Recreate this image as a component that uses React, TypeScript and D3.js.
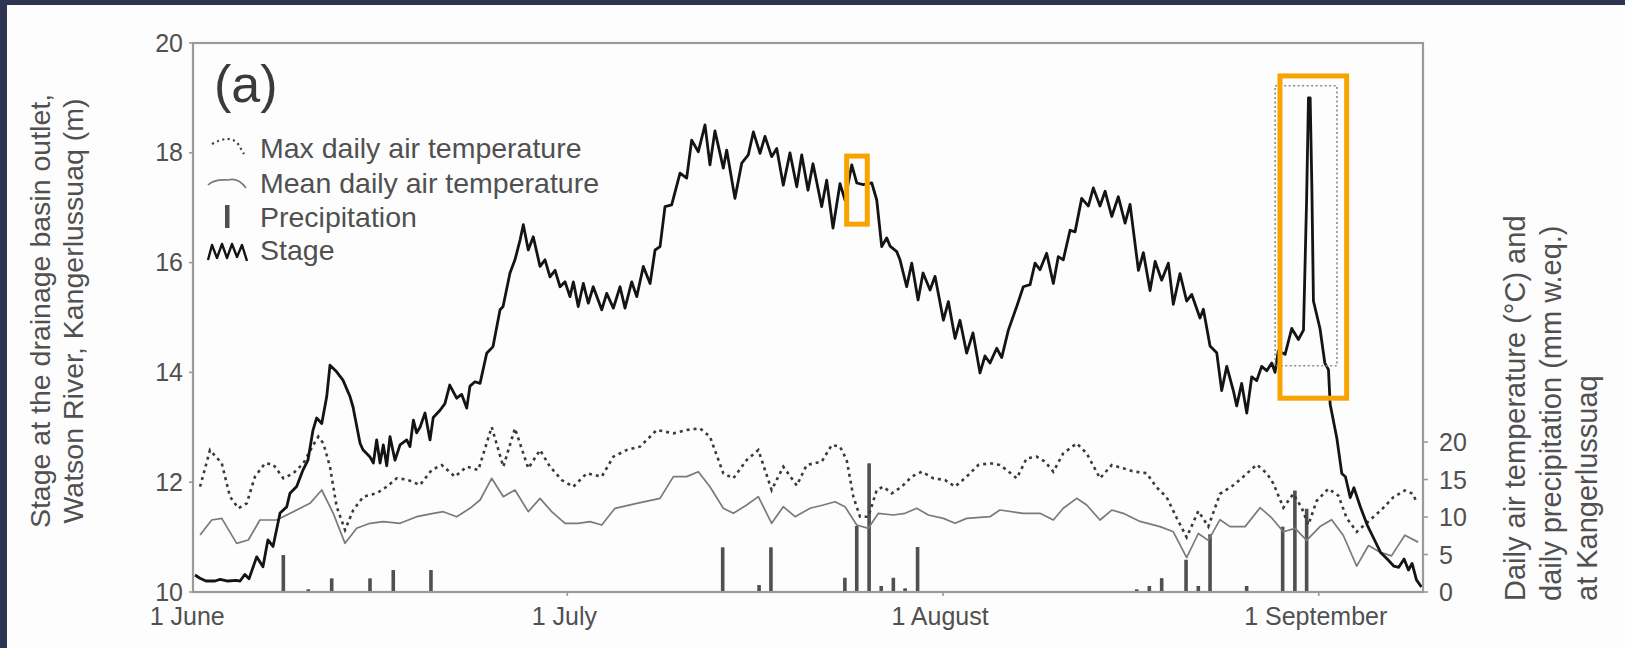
import React from 'react';
import * as d3 from 'd3';

// Day offsets are counted from 1 June 00:00; stage in metres.
const stage: [number, number][] = [
  [-0.72, 10.31], [-0.31, 10.25], [0.19, 10.2], [0.93, 10.2], [1.35, 10.23], [2.0, 10.2], [2.67, 10.21],
  [3.0, 10.2], [3.4, 10.32], [3.74, 10.24], [4.37, 10.64], [4.89, 10.46], [5.3, 10.95], [5.72, 10.83],
  [6.3, 11.44], [6.85, 11.55], [7.12, 11.8], [7.67, 11.92], [8.19, 12.22], [8.6, 12.4], [9.02, 12.95],
  [9.32, 13.17], [9.74, 13.07], [10.15, 13.56], [10.42, 14.13], [10.97, 14.01], [11.49, 13.86],
  [12.07, 13.56], [12.32, 13.37], [12.9, 12.71], [13.14, 12.59], [13.72, 12.46], [14.0, 12.35],
  [14.27, 12.77], [14.55, 12.35], [14.82, 12.68], [15.1, 12.3], [15.37, 12.83], [15.78, 12.4],
  [16.2, 12.68], [16.75, 12.77], [17.02, 12.65], [17.3, 13.13], [17.57, 12.9], [17.85, 13.0],
  [18.26, 13.26], [18.67, 12.77], [18.94, 13.18], [19.5, 13.31], [19.9, 13.43], [20.3, 13.77],
  [20.87, 13.53], [21.28, 13.6], [21.7, 13.35], [21.97, 13.75], [22.38, 13.83], [22.8, 13.8],
  [23.35, 14.35], [23.87, 14.47], [24.45, 15.14], [24.7, 15.2], [25.27, 15.81], [25.68, 16.05],
  [26.1, 16.41], [26.37, 16.69], [26.78, 16.23], [27.19, 16.47], [27.75, 15.93], [28.16, 16.05],
  [28.57, 15.74], [28.99, 15.86], [29.4, 15.56], [29.81, 15.65], [30.22, 15.38], [30.5, 15.65],
  [30.9, 15.2], [31.32, 15.62], [31.73, 15.26], [32.14, 15.56], [32.84, 15.14], [33.25, 15.44],
  [33.8, 15.17], [34.35, 15.56], [34.76, 15.17], [35.31, 15.65], [35.73, 15.38], [36.27, 15.93],
  [36.83, 15.62], [37.24, 16.23], [37.65, 16.29], [38.06, 17.02], [38.61, 17.05], [39.3, 17.63],
  [39.85, 17.54], [40.26, 18.23], [40.81, 18.02], [41.36, 18.51], [41.77, 17.78], [42.18, 18.4],
  [42.87, 17.72], [43.15, 18.05], [43.83, 17.17], [44.39, 17.81], [44.93, 17.96], [45.35, 18.38],
  [45.9, 17.99], [46.31, 18.3], [46.86, 17.93], [47.28, 18.08], [47.82, 17.41], [48.37, 18.0],
  [48.93, 17.38], [49.34, 17.96], [49.86, 17.32], [50.27, 17.8], [50.99, 17.02], [51.4, 17.5],
  [51.92, 16.63], [52.5, 17.44], [52.91, 17.14], [53.47, 17.78], [53.88, 17.45], [54.42, 17.42],
  [55.12, 17.45], [55.53, 17.14], [55.94, 16.29], [56.35, 16.45], [56.63, 16.3], [57.18, 16.2],
  [57.45, 16.05], [58.0, 15.56], [58.42, 15.99], [58.94, 15.32], [59.35, 15.81], [59.93, 15.5],
  [60.34, 15.75], [61.03, 14.95], [61.44, 15.29], [61.99, 14.62], [62.4, 14.95], [62.95, 14.35],
  [63.47, 14.72], [64.05, 13.99], [64.46, 14.3], [64.87, 14.17], [65.43, 14.44], [65.84, 14.27],
  [66.39, 14.77], [67.08, 15.2], [67.62, 15.56], [68.18, 15.6], [68.59, 15.99], [69.0, 15.87],
  [69.55, 16.17], [70.1, 15.62], [70.51, 16.11], [70.92, 16.05], [71.48, 16.59], [71.89, 16.56],
  [72.44, 17.17], [72.99, 17.03], [73.4, 17.36], [73.95, 17.03], [74.37, 17.3], [74.92, 16.84],
  [75.46, 17.2], [76.02, 16.72], [76.43, 17.06], [77.12, 15.86], [77.53, 16.18], [78.08, 15.49],
  [78.5, 16.02], [79.04, 15.68], [79.59, 15.99], [80.0, 15.24], [80.55, 15.8], [81.1, 15.3],
  [81.52, 15.42], [82.2, 14.99], [82.48, 15.15], [83.03, 14.48], [83.58, 14.36], [83.99, 13.67],
  [84.41, 14.11], [84.95, 13.67], [85.23, 13.39], [85.64, 13.8], [86.06, 13.26], [86.47, 13.92],
  [86.88, 13.85], [87.29, 14.11], [87.71, 14.03], [88.12, 14.17], [88.39, 14.0], [88.66, 14.39],
  [89.22, 14.33], [89.77, 14.8], [90.32, 14.6], [90.74, 14.77], [91.0, 17.18], [91.15, 19.0],
  [91.29, 19.0], [91.43, 17.38], [91.56, 15.3], [92.1, 14.8], [92.5, 14.17], [92.8, 14.05],
  [92.94, 13.42], [93.5, 12.79], [93.9, 12.16], [94.2, 12.1], [94.6, 11.72], [94.9, 11.9],
  [95.45, 11.54], [96.0, 11.22], [96.55, 10.97], [97.1, 10.72], [97.65, 10.6], [98.2, 10.47],
  [98.6, 10.45], [99.04, 10.6], [99.4, 10.4], [99.7, 10.52], [100.06, 10.22], [100.47, 10.09],
];

// Max daily air temperature (°C)
const maxTemp: [number, number][] = [
  [-0.3, 14.04], [0.52, 18.93], [1.49, 17.16], [2.17, 12.71], [2.86, 11.16], [3.55, 11.82],
  [4.23, 15.38], [5.06, 17.16], [5.74, 17.0], [6.57, 15.16], [7.39, 15.82], [8.22, 17.16],
  [9.04, 19.6], [9.46, 20.71], [9.87, 19.82], [10.42, 16.71], [10.97, 11.38], [11.66, 8.27],
  [12.34, 10.93], [13.17, 12.71], [14.27, 13.16], [15.1, 14.04], [15.92, 15.16], [16.75, 15.0],
  [17.85, 14.27], [18.81, 16.27], [19.64, 16.93], [20.73, 15.38], [21.7, 16.71], [22.66, 16.27],
  [23.76, 22.0], [24.72, 16.71], [25.68, 21.82], [26.78, 16.49], [27.75, 18.93], [28.57, 16.71],
  [29.54, 14.93], [30.5, 14.04], [31.6, 15.82], [32.84, 15.38], [33.8, 18.04], [34.9, 18.93],
  [36.0, 19.38], [37.38, 21.6], [38.75, 21.16], [39.85, 21.6], [40.95, 21.82], [41.77, 20.71],
  [42.87, 15.82], [43.7, 15.16], [44.8, 17.6], [45.76, 18.93], [46.86, 13.6], [47.82, 16.71],
  [48.93, 14.2], [49.75, 16.93], [50.99, 17.38], [51.82, 19.6], [52.5, 19.38], [53.05, 17.6],
  [53.6, 12.71], [54.15, 10.04], [54.84, 10.04], [55.53, 13.6], [56.07, 14.04], [56.77, 13.16],
  [57.59, 14.04], [58.42, 15.38], [59.24, 16.04], [60.2, 15.16], [61.16, 14.93], [61.99, 14.04],
  [62.95, 15.38], [63.91, 16.93], [64.87, 17.16], [65.69, 16.93], [66.25, 16.27], [67.08, 15.16],
  [67.9, 17.82], [68.73, 18.04], [69.41, 17.38], [70.1, 16.04], [70.92, 18.49], [72.03, 19.82],
  [72.85, 18.49], [73.95, 15.16], [74.92, 16.93], [75.87, 16.49], [76.7, 16.07], [77.8, 15.84],
  [78.6, 14.0], [79.45, 12.63], [80.28, 9.87], [81.1, 7.3], [82.06, 10.79], [82.89, 8.72],
  [83.85, 13.08], [84.95, 14.23], [85.78, 15.38], [86.88, 16.99], [87.71, 15.84], [88.25, 14.47],
  [89.08, 11.24], [89.9, 13.08], [90.59, 11.24], [91.14, 8.95], [91.83, 12.16], [92.79, 13.77],
  [93.62, 12.85], [94.3, 9.87], [95.13, 8.03], [96.1, 9.41], [97.2, 11.01], [98.15, 12.63],
  [99.1, 13.55], [99.79, 13.08], [100.07, 11.93],
];

// Mean daily air temperature (°C)
const meanTemp: [number, number][] = [
  [-0.3, 7.6], [0.66, 9.6], [1.49, 9.82], [2.72, 6.49], [3.68, 6.93], [4.64, 9.6], [6.02, 9.6],
  [7.39, 10.71], [8.77, 11.82], [9.74, 13.6], [10.69, 10.49], [11.66, 6.49], [12.62, 8.49],
  [13.72, 9.16], [14.82, 9.38], [16.2, 9.16], [17.57, 10.04], [18.94, 10.49], [19.77, 10.71],
  [20.87, 10.04], [21.97, 11.16], [22.8, 12.27], [23.76, 15.16], [24.72, 12.71], [25.68, 13.6],
  [26.78, 10.71], [27.75, 12.49], [28.71, 10.71], [29.81, 9.16], [30.9, 9.16], [31.87, 9.38],
  [32.84, 8.93], [33.93, 11.16], [35.73, 11.82], [37.65, 12.49], [38.75, 15.38], [39.85, 15.38],
  [40.81, 16.04], [41.77, 14.04], [42.87, 11.16], [43.7, 10.49], [44.8, 11.6], [45.76, 12.71],
  [46.86, 9.16], [47.82, 11.38], [48.79, 10.04], [50.03, 11.16], [51.12, 11.6], [52.09, 12.04],
  [52.91, 11.38], [53.88, 8.93], [54.84, 8.49], [55.66, 10.49], [56.9, 10.27], [57.87, 10.49],
  [58.83, 11.16], [59.79, 10.27], [61.03, 9.82], [61.99, 9.16], [62.95, 9.82], [64.87, 10.04],
  [65.69, 10.93], [67.62, 10.49], [69.0, 10.49], [70.1, 9.6], [70.92, 11.16], [72.03, 12.49],
  [72.85, 11.6], [73.95, 9.6], [74.92, 10.93], [75.87, 10.49], [77.25, 9.41], [78.9, 8.72],
  [80.0, 8.03], [81.1, 4.59], [82.06, 7.8], [82.89, 6.88], [83.85, 9.64], [84.68, 8.72],
  [85.92, 8.72], [87.16, 11.24], [88.12, 9.87], [89.08, 8.03], [90.05, 8.49], [91.0, 6.88],
  [92.1, 8.72], [93.06, 9.64], [94.02, 7.57], [95.13, 3.44], [96.1, 6.2], [97.1, 5.28],
  [98.0, 4.82], [99.1, 7.57], [100.2, 6.65],
];

// Daily precipitation (mm w.eq.)
const precip: [number, number][] = [
  [6.57, 4.93], [8.63, 0.36], [10.56, 1.82], [13.72, 1.82], [15.64, 2.93], [18.75, 2.93],
  [42.82, 5.96], [45.82, 0.93], [46.8, 5.96], [52.9, 1.9], [53.88, 8.8], [54.9, 17.16],
  [55.9, 0.8], [56.9, 1.9], [57.87, 0.49], [58.9, 6.0], [76.98, 0.36], [78.02, 0.8],
  [79.04, 1.85], [81.05, 4.3], [82.06, 0.8], [83.03, 7.7], [86.05, 0.8], [89.02, 8.71],
  [90.03, 13.53], [91.0, 11.1],
];

const monthTicks = [0, 30, 61, 92];
const monthLabels = ['1 June', '1 July', '1 August', '1 September'];
const stageTicks = [10, 12, 14, 16, 18, 20];
const rightTicks = [0, 5, 10, 15, 20];

const legendLabels = ['Max daily air temperature', 'Mean daily air temperature', 'Precipitation', 'Stage'];

// Highlighted windows: [day start, day end, stage low, stage high]
const zoomWindow = [88.4, 93.5, 14.12, 19.22];
const highlightBoxes = [
  [53.05, 54.75, 16.7, 17.94],
  [88.8, 94.3, 13.53, 19.4],
];

const W = 1625;
const H = 648;
const L = 193, R = 1423, T = 43, B = 592;
const FONT = '"Liberation Sans", Arial, Helvetica, sans-serif';
const TEXT = '#505050';
const AXIS = '#9a9a9a';
const ORANGE = '#f7a400';

export default function App() {
  const x = d3.scaleLinear().domain([-0.883, 100.6]).range([L, R]);
  const yS = d3.scaleLinear().domain([10, 20]).range([B, T]);
  const yT = d3.scaleLinear().domain([0, 20]).range([B, 442]);

  const stageLine = d3.line<[number, number]>().x(d => x(d[0])).y(d => yS(d[1]));
  const tempLine = d3.line<[number, number]>().x(d => x(d[0])).y(d => yT(d[1]));

  const legendX = 208;
  const legendBase = [158, 193, 227, 260];

  return (
    <div style={{ position: 'absolute', left: 0, top: 0 }}>
      <svg width={W} height={H} style={{ display: 'block' }} fontFamily={FONT}>
        <rect x={0} y={0} width={W} height={H} fill="#2e3552" />
        <rect x={7} y={5} width={W - 7} height={H - 5} fill="#fdfdfd" />

        {/* precipitation bars */}
        {precip.map(([d, v], i) => (
          <rect key={'p' + i} x={x(d) - 1.8} y={yT(v)} width={3.6} height={B - yT(v)} fill="#505050" />
        ))}

        {/* temperature */}
        <path d={tempLine(meanTemp) || ''} fill="none" stroke="#7a7a7a" strokeWidth={1.7} strokeLinejoin="round" />
        <path d={tempLine(maxTemp) || ''} fill="none" stroke="#3a3a3a" strokeWidth={2.6} strokeDasharray="3 4" />

        {/* stage */}
        <path d={stageLine(stage) || ''} fill="none" stroke="#141414" strokeWidth={2.8} strokeLinejoin="round" />

        {/* dotted window around the flood peak */}
        <rect
          x={x(zoomWindow[0])}
          y={yS(zoomWindow[3])}
          width={x(zoomWindow[1]) - x(zoomWindow[0])}
          height={yS(zoomWindow[2]) - yS(zoomWindow[3])}
          fill="none" stroke="#8a8a8a" strokeWidth={1.6} strokeDasharray="2 2.5"
        />

        {/* frame */}
        <rect x={L} y={T} width={R - L} height={B - T} fill="none" stroke={AXIS} strokeWidth={2.2} />

        {/* left axis */}
        {stageTicks.map(t => (
          <g key={'l' + t}>
            <line x1={L - 4} x2={L} y1={yS(t)} y2={yS(t)} stroke={AXIS} strokeWidth={1.6} />
            <text x={L - 10} y={yS(t) + 8.5} textAnchor="end" fontSize={25} fill={TEXT}>{t}</text>
          </g>
        ))}

        {/* right axis */}
        {rightTicks.map(t => (
          <g key={'r' + t}>
            <line x1={R} x2={R + 5} y1={yT(t)} y2={yT(t)} stroke={AXIS} strokeWidth={1.6} />
            <text x={R + 16} y={yT(t) + 9} textAnchor="start" fontSize={25} fill={TEXT}>{t}</text>
          </g>
        ))}

        {/* bottom axis */}
        {monthTicks.map((t, i) => (
          <g key={'m' + t}>
            {i > 0 && <line x1={x(t)} x2={x(t)} y1={B} y2={B + 4} stroke={AXIS} strokeWidth={1.6} />}
            <text x={x(t) - (i === 0 ? 16.5 : 3)} y={624.5} textAnchor="middle" fontSize={25} fill={TEXT}>
              {monthLabels[i]}
            </text>
          </g>
        ))}

        {/* axis titles */}
        <g transform="translate(50,311) rotate(-90)">
          <text textAnchor="middle" fontSize={28.5} fill={TEXT}>Stage at the drainage basin outlet,</text>
        </g>
        <g transform="translate(83,311) rotate(-90)">
          <text textAnchor="middle" fontSize={28.5} fill={TEXT}>Watson River, Kangerlussuaq (m)</text>
        </g>
        <g transform="translate(1525,601) rotate(-90)">
          <text textAnchor="start" fontSize={29} fill={TEXT}>Daily air temperature (°C) and</text>
        </g>
        <g transform="translate(1561,601) rotate(-90)">
          <text textAnchor="start" fontSize={29} fill={TEXT}>daily precipitation (mm w.eq.)</text>
        </g>
        <g transform="translate(1597,601) rotate(-90)">
          <text textAnchor="start" fontSize={29} fill={TEXT}>at Kangerlussuaq</text>
        </g>

        {/* panel label */}
        <text x={214} y={102} fontSize={52} fill="#3a3a3a">(a)</text>

        {/* legend */}
        <path
          d={`M${legendX + 4},${legendBase[0] - 14} Q${legendX + 22},${legendBase[0] - 24} ${legendX + 30},${legendBase[0] - 14} L${legendX + 36},${legendBase[0] - 4}`}
          fill="none" stroke="#3a3a3a" strokeWidth={2.2} strokeDasharray="2 3.5"
        />
        <path
          d={`M${legendX},${legendBase[1] - 8} Q${legendX + 6},${legendBase[1] - 14} ${legendX + 20},${legendBase[1] - 13} Q${legendX + 30},${legendBase[1] - 16} ${legendX + 38},${legendBase[1] - 5}`}
          fill="none" stroke="#7a7a7a" strokeWidth={1.7}
        />
        <rect x={legendX + 17} y={legendBase[2] - 22} width={4.5} height={23} fill="#505050" />
        <path
          d={`M${legendX},${legendBase[3]} L${legendX + 4},${legendBase[3] - 15} L${legendX + 9},${legendBase[3] - 2} L${legendX + 14},${legendBase[3] - 16} L${legendX + 19},${legendBase[3] - 2} L${legendX + 24},${legendBase[3] - 16} L${legendX + 29},${legendBase[3] - 3} L${legendX + 34},${legendBase[3] - 15} L${legendX + 39},${legendBase[3] + 1}`}
          fill="none" stroke="#141414" strokeWidth={2.4} strokeLinejoin="round"
        />
        {legendLabels.map((lab, i) => (
          <text key={'lg' + i} x={260} y={legendBase[i]} fontSize={28.5} fill={TEXT}>{lab}</text>
        ))}

        {/* highlight boxes */}
        {highlightBoxes.map((b, i) => (
          <rect
            key={'h' + i}
            x={x(b[0])}
            y={yS(b[3])}
            width={x(b[1]) - x(b[0])}
            height={yS(b[2]) - yS(b[3])}
            fill="none" stroke={ORANGE} strokeWidth={5}
          />
        ))}
      </svg>
    </div>
  );
}
